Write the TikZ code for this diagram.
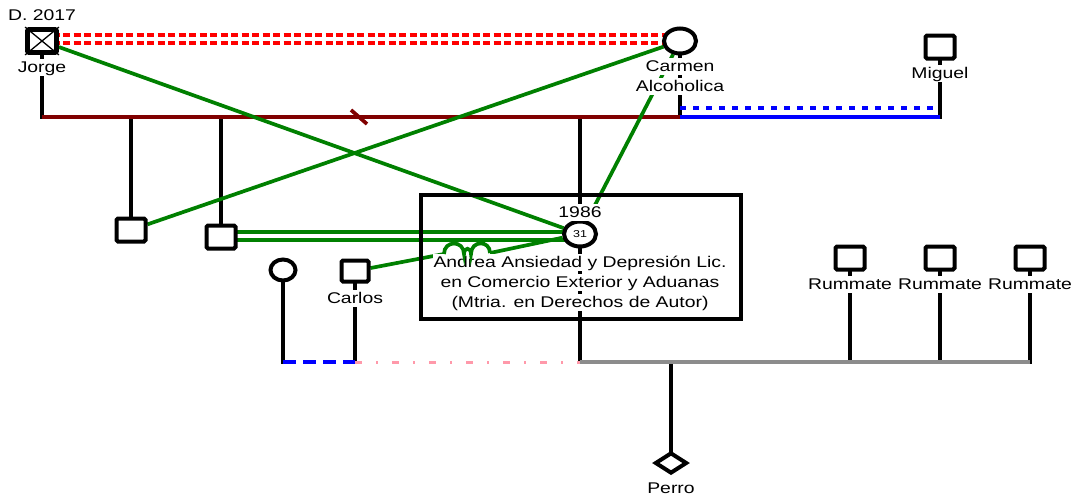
\documentclass[tikz,border=0pt]{standalone}
\usepackage{fontspec}
\setmainfont{Liberation Sans}[FakeStretch=1.25]
\usetikzlibrary{shapes.geometric}
\pgfdeclarelayer{bgl}
\pgfsetlayers{bgl,main}
\definecolor{gr}{HTML}{008000}
\definecolor{maroonc}{HTML}{800000}
\definecolor{pinkl}{HTML}{FF99AA}
\definecolor{greyl}{HTML}{8C8C8C}
\tikzset{
  sq/.style={rectangle, draw=black, line width=4pt, fill=white, rounded corners=1.5pt, minimum width=29pt, minimum height=23pt, inner sep=0pt},
  fem/.style={ellipse, draw=black, line width=4pt, fill=white, minimum width=32pt, minimum height=25pt, inner sep=0pt},
  pet/.style={diamond, draw=black, line width=4pt, fill=white, minimum width=32pt, minimum height=21pt, inner sep=0pt},
  lbl/.style={fill=white, inner xsep=1pt, inner ysep=1pt, text height=12pt, text depth=3pt, font=\fontsize{15.5}{19}\selectfont},
  kid/.style={draw=black, line width=4pt, line cap=rect},
  rel/.style={draw=gr, line width=3.7pt},
  reddash/.style={draw=red, line width=3.7pt, dash pattern=on 7pt off 3.5pt},
  bluesolid/.style={draw=blue, line width=3.7pt},
  bluedash/.style={draw=blue, line width=3.7pt, dash pattern=on 6pt off 7pt},
  bluedashb/.style={draw=blue, line width=3.7pt, dash pattern=on 13pt off 7pt},
  pinkdd/.style={draw=pinkl, line width=3pt, dash pattern=on 6.7pt off 14.5pt on 1.3pt off 14.5pt},
  greyline/.style={draw=greyl, line width=3.7pt},
  marline/.style={draw=maroonc, line width=3.7pt}
}
\begin{document}
\begin{tikzpicture}[x=1pt,y=-1pt]
\useasboundingbox (0,0) rectangle (1076,498);
% persons
\node[sq, line width=4.8pt] (jorge) at (42,41) {};
\node[fem] (carmen) at (680,41) {};
\node[sq] (miguel) at (940,47) {};
\node[sq] (sq1) at (131,230) {};
\node[sq] (sq2) at (221,237) {};
\node[fem, font=\fontsize{10}{10}\selectfont] (andrea) at (580,234) {31};
\node[fem, minimum width=25pt, minimum height=21pt] (bl) at (283,270) {};
\node[sq, minimum width=27pt, minimum height=21pt] (carlos) at (355,271) {};
\node[sq] (r1) at (850,258) {};
\node[sq] (r2) at (940,258) {};
\node[sq] (r3) at (1030,258) {};
\node[pet] (perro) at (671,463) {};
\draw[line width=1.3pt] (jorge.north west) -- (jorge.south east) (jorge.north east) -- (jorge.south west);
% Andrea frame
\node[draw=black, line width=3.7pt, minimum width=320pt, minimum height=124pt, inner sep=0pt] (abox) at (581,257) {};
% labels
\node[lbl] (jorgeD) at (42,15.5) {D. 2017};
\node[lbl] (jorgeL) at (42,67.5) {Jorge};
\node[lbl] (carmenL1) at (680,66.5) {Carmen};
\node[lbl] (carmenL2) at (680,86.5) {Alcoholica};
\node[lbl] (miguelL) at (940,73.5) {Miguel};
\node[lbl] (year) at (580,212.5) {1986};
\node[lbl] (a1) at (580,262.5) {Andrea Ansiedad y Depresión Lic.};
\node[lbl] (a2) at (580,282.5) {en Comercio Exterior y Aduanas};
\node[lbl] (a3) at (580,302.5) {(Mtria. en Derechos de Autor)};
\node[lbl] (carlosL) at (355,298.5) {Carlos};
\node[lbl] (r1L) at (850,284.5) {Rummate};
\node[lbl] (r2L) at (940,284.5) {Rummate};
\node[lbl] (r3L) at (1030,284.5) {Rummate};
\node[lbl] (perroL) at (671,488.5) {Perro};
\coordinate (fA) at (444,254);
\coordinate (fB) at (490,253);
% fused mark
\draw[rel] (fA) .. controls (444,240) and (464,240) .. (464,254)
  .. controls (464,247) and (471,247) .. (471,254)
  .. controls (471,240) and (490,240) .. (fB);
\begin{pgfonlayer}{bgl}
\fill[white] (0,0) rectangle (1076,498);
% descent lines
\draw[kid] (jorge) -- (jorge |- 0,117);
\draw[kid] (carmen) -- (carmen |- 0,117);
\draw[kid] (miguel) -- (miguel |- 0,117);
\draw[kid] (sq1) -- (sq1 |- 0,117);
\draw[kid] (sq2) -- (sq2 |- 0,117);
\draw[kid] (andrea) -- (andrea |- 0,117);
\draw[kid] (andrea) -- (andrea |- 0,362);
\draw[kid] (bl) -- (bl |- 0,362);
\draw[kid] (carlos) -- (carlos |- 0,362);
\draw[kid] (r1) -- (r1 |- 0,362);
\draw[kid] (r2) -- (r2 |- 0,362);
\draw[kid] (r3) -- (r3 |- 0,362);
\draw[kid] (perro) -- (perro |- 0,362);
% relationship lines
\draw[marline] (jorge |- 0,117) -- (carmen |- 0,117);
\draw[marline] (351,110) -- (367,124);
\draw[bluesolid] (carmen |- 0,117) -- (miguel |- 0,117);
\draw[bluedash] (carmen |- 0,108) -- (miguel |- 0,108);
\draw[reddash] (jorge |- 0,35) -- (carmen |- 0,35);
\draw[reddash] (jorge |- 0,43) -- (carmen |- 0,43);
\draw[bluedashb] (bl |- 0,362) -- (carlos |- 0,362);
\draw[pinkdd] (carlos |- 0,362) -- (andrea |- 0,362);
\draw[greyline] (andrea |- 0,362) -- (r3 |- 0,362);
% emotional lines
\draw[rel] (jorge) -- (andrea);
\draw[rel] (carmen) -- (sq1);
\draw[rel] (carmen) -- (andrea);
\draw[rel, line width=3.3pt] (sq2 |- 0,232) -- (andrea |- 0,232);
\draw[rel, line width=3.3pt] (sq2 |- 0,240) -- (andrea |- 0,240);
\draw[rel] (carlos) -- (fA);
\draw[rel] (fB) -- (andrea);
\end{pgfonlayer}
\end{tikzpicture}
\end{document}
